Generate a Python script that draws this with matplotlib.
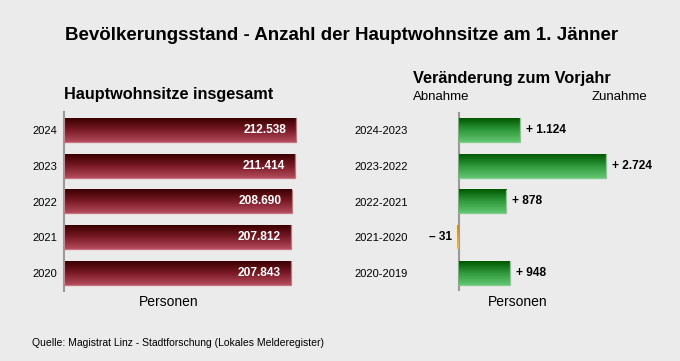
import matplotlib.pyplot as plt
import numpy as np
from matplotlib.colors import LinearSegmentedColormap

plt.rcParams['font.family'] = ['Liberation Sans', 'DejaVu Sans']

# data
years = ['2024', '2023', '2022', '2021', '2020']
totals = [212538, 211414, 208690, 207812, 207843]
periods = ['2024-2023', '2023-2022', '2022-2021', '2021-2020', '2020-2019']
changes = [1124, 2724, 878, -31, 948]

bg = '#ebebeb'
# colour lists go top -> bottom of a bar (y axis is inverted)
red_cm = LinearSegmentedColormap.from_list('r', ['#3a0000', '#7a1a26', '#b34b5c'])
green_cm = LinearSegmentedColormap.from_list('g', ['#005800', '#2f9a3c', '#62c46f'])
orange_cm = LinearSegmentedColormap.from_list('o', ['#d08a10', '#f0b850'])
grad = np.linspace(0, 1, 64).reshape(-1, 1)


def fmt(v):
    return '{:,}'.format(abs(v)).replace(',', '.')


def grad_bar(ax, y, x0, x1, h, cmap, edge):
    ax.imshow(grad, cmap=cmap, aspect='auto', origin='lower',
              extent=(x0, x1, y - h / 2, y + h / 2), zorder=2)
    if edge:
        # light rim on the right and bottom side only
        ax.plot([x1, x1, x0], [y - h / 2, y + h / 2, y + h / 2],
                color=edge, lw=0.9, zorder=3, solid_joinstyle='miter')


def style(ax):
    ax.set_facecolor(bg)
    for s in ['top', 'right', 'bottom']:
        ax.spines[s].set_visible(False)
    ax.spines['left'].set_color('#9a9a9a')
    ax.spines['left'].set_linewidth(1.5)
    ax.set_xticks([])


fig = plt.figure(figsize=(6.8, 3.61), dpi=100, facecolor=bg)
bar_h = 0.667

# left panel
ax1 = fig.add_axes([64 / 680, 70 / 361, 235 / 680, 179 / 361])
style(ax1)
for i, v in enumerate(totals):
    grad_bar(ax1, i, 0, v, bar_h, red_cm, '#c9727f')
    ax1.text(v - 9000, i, fmt(v), ha='right', va='center', color='white',
             fontsize=8.6, fontweight='bold', zorder=4)
ax1.set_xlim(0, 215280)
ax1.set_ylim(4.5, -0.5)
ax1.set_yticks(range(len(years)))
ax1.set_yticklabels(years, fontsize=8)
ax1.tick_params(axis='y', length=0, pad=5)

# right panel
ax2 = fig.add_axes([413 / 680, 70 / 361, 234 / 680, 179 / 361])
style(ax2)
ax2.spines['left'].set_visible(False)
ax2.axvline(0, color='#9a9a9a', lw=1.5, zorder=1)
for i, v in enumerate(changes):
    if v >= 0:
        grad_bar(ax2, i, 0, v, bar_h, green_cm, '#7fcf88')
        ax2.text(v + 110, i, '+ ' + fmt(v), ha='left', va='center',
                 fontsize=8.6, fontweight='bold')
    else:
        grad_bar(ax2, i, v, 0, bar_h, orange_cm, None)
        ax2.text(v - 100, i, '\u2013 ' + fmt(v), ha='right', va='center',
                 fontsize=8.6, fontweight='bold')
ax2.set_xlim(-852, 3481)
ax2.set_ylim(4.5, -0.5)
ax2.set_yticks(range(len(periods)))
ax2.set_yticklabels(periods, fontsize=8)
ax2.tick_params(axis='y', length=0, pad=4)

# texts
fig.text(0.503, 1 - 35 / 361, 'Bevölkerungsstand - Anzahl der Hauptwohnsitze am 1. Jänner',
         ha='center', va='center', fontsize=13.5, fontweight='bold')
fig.text(64 / 680, 1 - 95 / 361, 'Hauptwohnsitze insgesamt', ha='left', va='center',
         fontsize=11.7, fontweight='bold')
fig.text(413 / 680, 1 - 79 / 361, 'Veränderung zum Vorjahr', ha='left', va='center',
         fontsize=11.8, fontweight='bold')
fig.text(413 / 680, 1 - 97 / 361, 'Abnahme', ha='left', va='center', fontsize=9.5)
fig.text(647 / 680, 1 - 97 / 361, 'Zunahme', ha='right', va='center', fontsize=9.5)
fig.text(169 / 680, 1 - 302 / 361, 'Personen', ha='center', va='center', fontsize=10)
fig.text(518 / 680, 1 - 302 / 361, 'Personen', ha='center', va='center', fontsize=10)
fig.text(32 / 680, 1 - 343 / 361, 'Quelle: Magistrat Linz - Stadtforschung (Lokales Melderegister)',
         ha='left', va='center', fontsize=7.5)

fig.savefig('out.png', dpi=100, facecolor=bg)
